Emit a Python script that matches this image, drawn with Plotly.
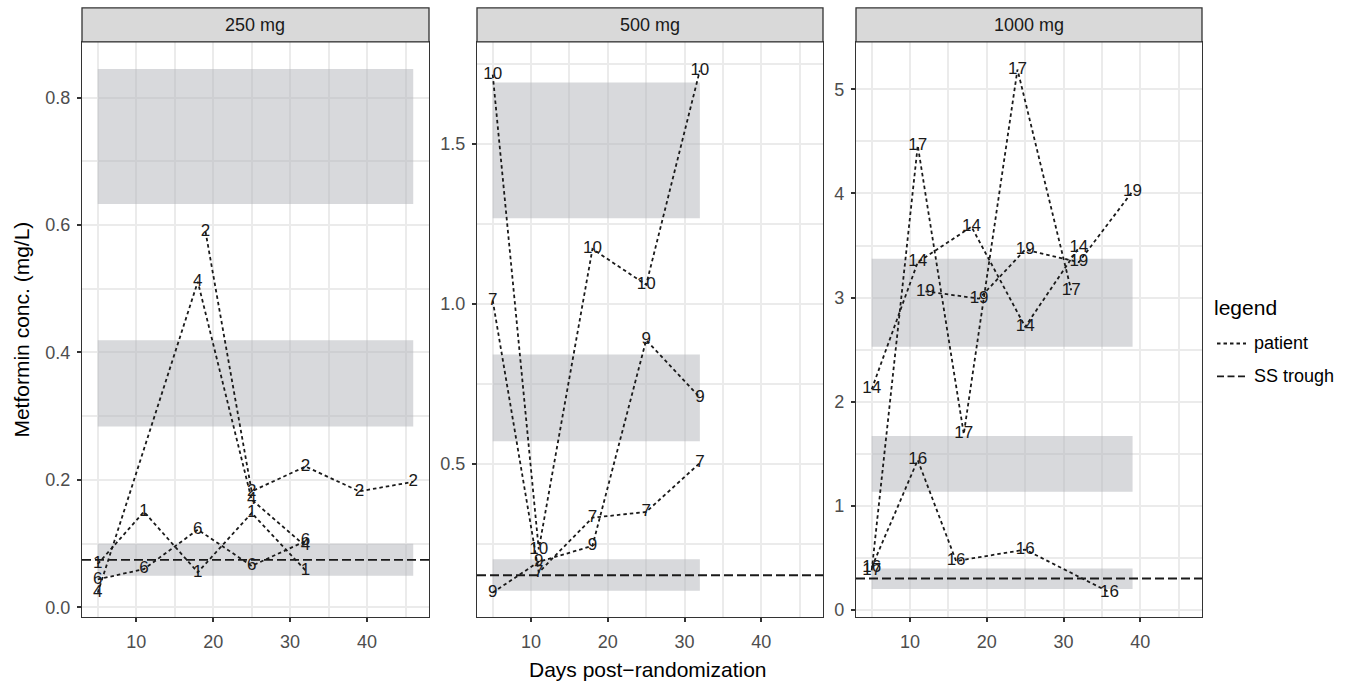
import plotly.graph_objects as go

W, H = 1349, 687
FONT = "Liberation Sans, Arial, sans-serif"

# ---------------- data ----------------
panel_titles = ["250 mg", "500 mg", "1000 mg"]

# 250 mg
pt1_day = [5, 11, 18, 25, 32]
pt1_conc = [0.068, 0.150, 0.055, 0.148, 0.058]
pt2_day = [19, 25, 32, 39, 46]
pt2_conc = [0.590, 0.182, 0.221, 0.182, 0.197]
pt4_day = [5, 18, 25, 32]
pt4_conc = [0.023, 0.511, 0.169, 0.096]
pt6_day = [5, 11, 18, 25, 32]
pt6_conc = [0.044, 0.060, 0.122, 0.065, 0.104]

# 500 mg
pt7_day = [5, 11, 18, 25, 32]
pt7_conc = [1.010, 0.160, 0.331, 0.349, 0.502]
pt9_day = [5, 11, 18, 25, 32]
pt9_conc = [0.097, 0.193, 0.243, 0.886, 0.707]
pt10_day = [5, 11, 18, 25, 32]
pt10_conc = [1.716, 0.232, 1.171, 1.059, 1.729]

# 1000 mg
pt14_day = [5, 11, 18, 25, 32]
pt14_conc = [2.12, 3.34, 3.68, 2.72, 3.48]
pt16_day = [5, 11, 16, 25, 36]
pt16_conc = [0.41, 1.44, 0.47, 0.58, 0.17]
pt17_day = [5, 11, 17, 24, 31]
pt17_conc = [0.38, 4.46, 1.69, 5.19, 3.07]
pt19_day = [12, 19, 25, 32, 39]
pt19_conc = [3.06, 2.99, 3.46, 3.34, 4.02]

# reference bands (low / high) and x extent, SS trough per dose
band_lo_250 = [0.0495, 0.284, 0.633]
band_hi_250 = [0.100, 0.419, 0.845]
band_x_250 = [5, 46]
trough_250 = 0.0745

band_lo_500 = [0.103, 0.570, 1.267]
band_hi_500 = [0.201, 0.841, 1.691]
band_x_500 = [5, 32]
trough_500 = 0.151

band_lo_1000 = [0.201, 1.135, 2.528]
band_hi_1000 = [0.399, 1.671, 3.372]
band_x_1000 = [5, 39]
trough_1000 = 0.303

legend_title = "legend"
legend_labels = ["patient", "SS trough"]

# ---------------- layout helpers ----------------
def px_x(p):
    return p / W

def px_y(p):
    return 1 - p / H

panel_px = [(82, 429), (477, 823), (856, 1202)]
plot_top, plot_bot = 42, 620
strip_top = 8

panels = [
    dict(title=panel_titles[0],
         pts=[("1", pt1_day, pt1_conc), ("2", pt2_day, pt2_conc),
              ("4", pt4_day, pt4_conc), ("6", pt6_day, pt6_conc)],
         lo=band_lo_250, hi=band_hi_250, bx=band_x_250, trough=trough_250,
         yrange=[-0.0156, 0.8875], dtick=0.2, minor=0.1, fmt=".1f"),
    dict(title=panel_titles[1],
         pts=[("7", pt7_day, pt7_conc), ("9", pt9_day, pt9_conc),
              ("10", pt10_day, pt10_conc)],
         lo=band_lo_500, hi=band_hi_500, bx=band_x_500, trough=trough_500,
         yrange=[0.0197, 1.8185], dtick=0.5, minor=0.25, fmt=".1f"),
    dict(title=panel_titles[2],
         pts=[("14", pt14_day, pt14_conc), ("16", pt16_day, pt16_conc),
              ("17", pt17_day, pt17_conc), ("19", pt19_day, pt19_conc)],
         lo=band_lo_1000, hi=band_hi_1000, bx=band_x_1000, trough=trough_1000,
         yrange=[-0.07, 5.456], dtick=1, minor=0.5, fmt="d"),
]

PATIENT_DASH = "3.5px,3px"
PATIENT_W = 1.8
TROUGH_DASH = "9px,4px"
TROUGH_W = 1.9
INK = "#1A1A1A"

fig = go.Figure()
shapes = []
annotations = []
layout = {}

for i, pn in enumerate(panels):
    k = "" if i == 0 else str(i + 1)
    xr, yr = "x" + k, "y" + k
    x0p, x1p = panel_px[i]
    common = dict(
        showgrid=True, gridcolor="#EBEBEB", gridwidth=2,
        zeroline=False, showline=True, mirror=True, linecolor="#333333",
        linewidth=1.3, ticks="outside", ticklen=4, tickwidth=1.5,
        tickcolor="#333333", tickfont=dict(family=FONT, size=18, color="#4D4D4D"),
    )
    layout["xaxis" + k] = dict(
        common, domain=[px_x(x0p), px_x(x1p)], anchor=yr,
        range=[2.95, 48.05], tick0=0, dtick=10,
        minor=dict(dtick=5, showgrid=True, gridcolor="#EBEBEB", gridwidth=1.5),
        ticklabelstandoff=4,
    )
    layout["yaxis" + k] = dict(
        common, domain=[px_y(plot_bot), px_y(plot_top)], anchor=xr,
        range=pn["yrange"], tick0=0, dtick=pn["dtick"], tickformat=pn["fmt"],
        minor=dict(dtick=pn["minor"], showgrid=True, gridcolor="#EBEBEB", gridwidth=1.5),
        ticklabelstandoff=3,
    )

    # bands
    for lo, hi in zip(pn["lo"], pn["hi"]):
        shapes.append(dict(type="rect", xref=xr, yref=yr,
                           x0=pn["bx"][0], x1=pn["bx"][1], y0=lo, y1=hi,
                           fillcolor="rgba(178,180,186,0.5)", line=dict(width=0),
                           layer="between"))
    # SS trough
    shapes.append(dict(type="line", xref=xr + " domain", yref=yr,
                       x0=0, x1=1, y0=pn["trough"], y1=pn["trough"],
                       line=dict(color=INK, width=TROUGH_W, dash=TROUGH_DASH),
                       layer="above"))
    # strip
    shapes.append(dict(type="rect", xref="paper", yref="paper",
                       x0=px_x(x0p), x1=px_x(x1p), y0=px_y(plot_top), y1=px_y(strip_top),
                       fillcolor="#D9D9D9", line=dict(color="#333333", width=1.3),
                       layer="above"))
    annotations.append(dict(xref="paper", yref="paper",
                            x=px_x((x0p + x1p) / 2), y=px_y((plot_top + strip_top) / 2),
                            text=pn["title"], showarrow=False,
                            font=dict(family=FONT, size=18, color=INK),
                            xanchor="center", yanchor="middle"))

    for pid, days, conc in pn["pts"]:
        fig.add_trace(go.Scatter(
            x=days, y=conc, xaxis=xr, yaxis=yr,
            mode="lines+text", text=[pid] * len(days), textposition="middle center",
            textfont=dict(family=FONT, size=17, color=INK),
            line=dict(color=INK, width=PATIENT_W, dash=PATIENT_DASH),
            showlegend=False, hoverinfo="skip"))

# ---------------- legend (drawn) ----------------
annotations.append(dict(xref="paper", yref="paper", x=px_x(1212), y=px_y(309),
                        text=legend_title, showarrow=False,
                        font=dict(family=FONT, size=21, color="#000000"),
                        xanchor="left", yanchor="middle"))
leg_rows = [345, 378]
leg_styles = [(PATIENT_DASH, PATIENT_W), ("7px,3.5px", TROUGH_W)]
for lab, yy, (dsh, lw) in zip(legend_labels, leg_rows, leg_styles):
    shapes.append(dict(type="line", xref="paper", yref="paper",
                       x0=px_x(1217), x1=px_x(1246), y0=px_y(yy), y1=px_y(yy),
                       line=dict(color=INK, width=lw, dash=dsh)))
    annotations.append(dict(xref="paper", yref="paper", x=px_x(1252), y=px_y(yy),
                            text=lab, showarrow=False,
                            font=dict(family=FONT, size=18, color="#000000"),
                            xanchor="left", yanchor="middle"))

# axis titles
annotations.append(dict(xref="paper", yref="paper", x=px_x(648), y=px_y(672),
                        text="Days post\u2212randomization", showarrow=False,
                        font=dict(family=FONT, size=21, color="#000000"),
                        xanchor="center", yanchor="middle"))
annotations.append(dict(xref="paper", yref="paper", x=px_x(22), y=px_y(331),
                        text="Metformin conc. (mg/L)", showarrow=False, textangle=-90,
                        font=dict(family=FONT, size=21, color="#000000"),
                        xanchor="center", yanchor="middle"))

fig.update_layout(
    width=W, height=H,
    margin=dict(l=0, r=0, t=0, b=0),
    paper_bgcolor="white", plot_bgcolor="white",
    font=dict(family=FONT, size=18, color="#000000"),
    shapes=shapes, annotations=annotations,
    showlegend=False,
    **layout,
)

fig.write_html("out.html")
